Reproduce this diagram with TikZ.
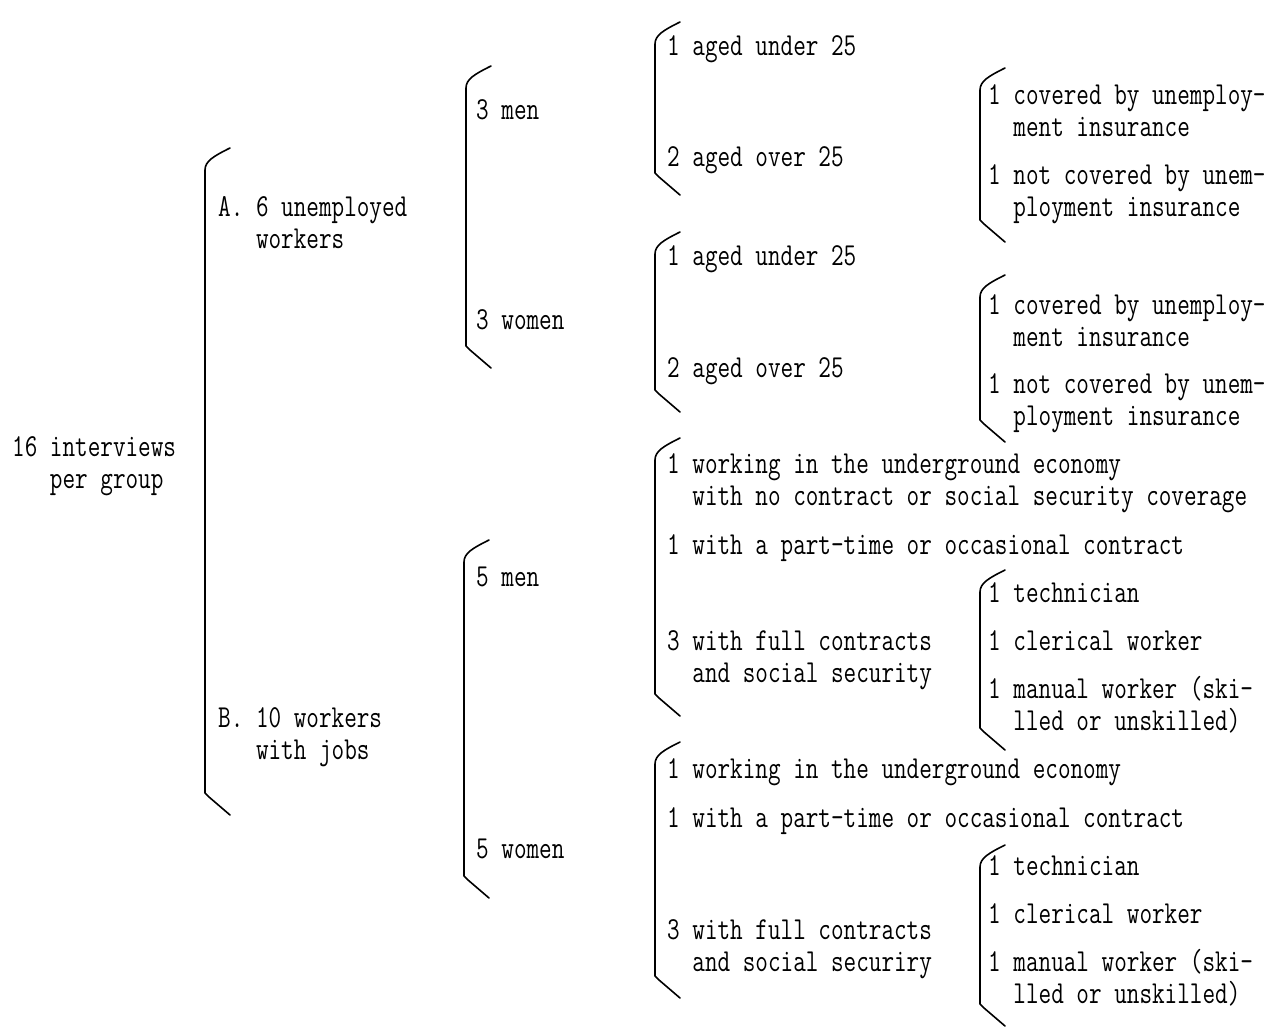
\documentclass[tikz,border=0pt]{standalone}
\usepackage{fontspec}
\newfontfamily\typew{Latin Modern Mono}[FakeStretch=0.765]
\newcommand\twoline[3]{\vtop{\baselineskip=32pt\hbox{#1}\hbox{\phantom{#2}#3}}}
\newcommand\mybracket[3]{%
  \draw[brk] (#1+25,#2) .. controls (#1+9,#2+8) and (#1,#2+13) .. (#1,#2+22)
     -- (#1,#3-22) -- (#1+4,#3-18) -- (#1+25,#3);}
\begin{document}
\begin{tikzpicture}[x=1pt,y=-1pt,
  lbl/.style={anchor=base west,inner sep=0pt,font=\typew\fontsize{32}{32}\selectfont},
  brk/.style={line width=1.6pt,line cap=round,line join=round}]
\useasboundingbox (0,0) rectangle (1273,1028);
% brackets
\mybracket{205}{148}{815}
\mybracket{466}{66}{368}
\mybracket{464}{540}{898}
\mybracket{655}{22}{195}
\mybracket{655}{232}{412}
\mybracket{655}{438}{716}
\mybracket{655}{742}{998}
\mybracket{980}{68}{242}
\mybracket{980}{275}{442}
\mybracket{980}{570}{750}
\mybracket{980}{845}{1026}
% level 0
\node[lbl] (root) at (12,456) {\twoline{16 interviews}{16 }{per group}};
% level 1
\node[lbl] (A) at (218,216) {\twoline{A. 6 unemployed}{A. }{workers}};
\node[lbl] (B) at (218,727) {\twoline{B. 10 workers}{B. }{with jobs}};
% level 2
\node[lbl] (Am) at (476,119) {3 men};
\node[lbl] (Aw) at (476,329) {3 women};
\node[lbl] (Bm) at (476,586) {5 men};
\node[lbl] (Bw) at (476,858) {5 women};
% level 3
\node[lbl] (Am1) at (667,55) {1 aged under 25};
\node[lbl] (Am2) at (667,166) {2 aged over 25};
\node[lbl] (Aw1) at (667,265) {1 aged under 25};
\node[lbl] (Aw2) at (667,377) {2 aged over 25};
\node[lbl] (Bm1) at (667,473) {\twoline{1 working in the underground economy}{1 }{with no contract or social security coverage}};
\node[lbl] (Bm2) at (667,554) {1 with a part-time or occasional contract};
\node[lbl] (Bm3) at (667,650) {\twoline{3 with full contracts}{3 }{and social security}};
\node[lbl] (Bw1) at (667,778) {1 working in the underground economy};
\node[lbl] (Bw2) at (667,827) {1 with a part-time or occasional contract};
\node[lbl] (Bw3) at (667,939) {\twoline{3 with full contracts}{3 }{and social securiry}};
% level 4
\node[lbl] (Am2a) at (988,104) {\twoline{1 covered by unemploy-}{1 }{ment insurance}};
\node[lbl] (Am2b) at (988,184) {\twoline{1 not covered by unem-}{1 }{ployment insurance}};
\node[lbl] (Aw2a) at (988,314) {\twoline{1 covered by unemploy-}{1 }{ment insurance}};
\node[lbl] (Aw2b) at (988,393) {\twoline{1 not covered by unem-}{1 }{ployment insurance}};
\node[lbl] (Bm3a) at (988,602) {1 technician};
\node[lbl] (Bm3b) at (988,650) {1 clerical worker};
\node[lbl] (Bm3c) at (988,698) {\twoline{1 manual worker (ski-}{1 }{lled or unskilled)}};
\node[lbl] (Bw3a) at (988,875) {1 technician};
\node[lbl] (Bw3b) at (988,923) {1 clerical worker};
\node[lbl] (Bw3c) at (988,971) {\twoline{1 manual worker (ski-}{1 }{lled or unskilled)}};
\end{tikzpicture}
\end{document}
